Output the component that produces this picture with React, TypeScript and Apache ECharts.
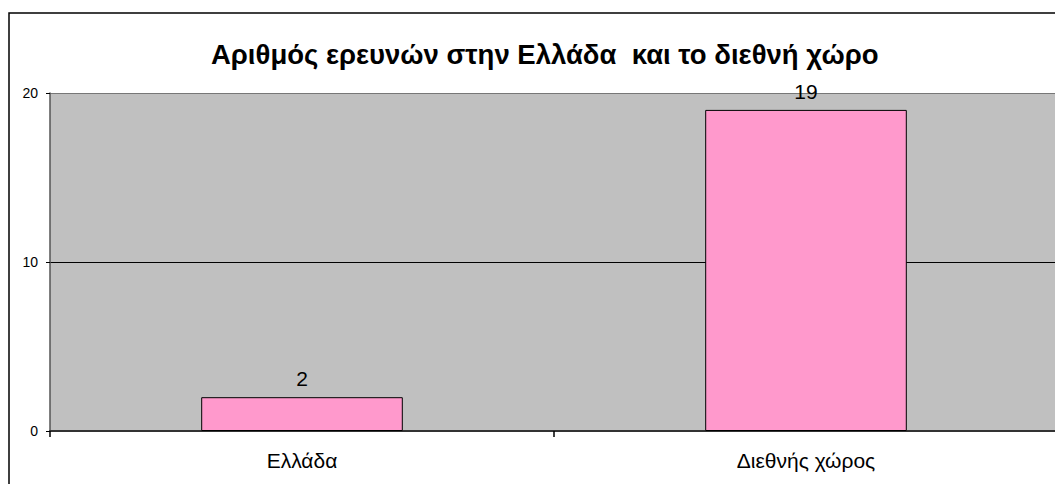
import React, { useEffect, useRef } from "react";
import * as echarts from "echarts";

const titleText = "Αριθμός ερευνών στην Ελλάδα  και το διεθνή χώρο";
const categories = ["Ελλάδα", "Διεθνής χώρος"];
const values = [2, 19];
const yMin = 0;
const yMax = 20;
const yInterval = 10;

const FONT = "'Liberation Sans', Arial, sans-serif";

export default function App() {
  const ref = useRef<HTMLDivElement>(null);
  useEffect(() => {
    if (!ref.current) return;
    const chart = echarts.init(ref.current, undefined, { renderer: "svg" });
    chart.setOption({
      animation: false,
      backgroundColor: "#fff",
      textStyle: { fontFamily: FONT },
      title: {
        text: titleText,
        left: 206,
        top: 35,
        textStyle: { fontFamily: FONT, fontSize: 27.5, fontWeight: "bold", color: "#000" },
      },
      graphic: [
        {
          type: "rect",
          shape: { x: 9, y: 13, width: 1200, height: 600 },
          style: { fill: "none", stroke: "#000", lineWidth: 1.5 },
          z: 100,
        },
      ],
      grid: {
        left: 50,
        top: 93,
        width: 1008,
        height: 338,
        show: true,
        backgroundColor: "#C0C0C0",
        borderWidth: 0,
      },
      xAxis: {
        type: "category",
        data: categories,
        axisLine: { show: true, lineStyle: { color: "#333", width: 2 } },
        axisTick: { show: true, length: 6, alignWithLabel: false, lineStyle: { color: "#000", width: 1.5 } },
        axisLabel: { fontFamily: FONT, fontSize: 21, color: "#000", margin: 19 },
        splitLine: { show: false },
      },
      yAxis: {
        type: "value",
        min: yMin,
        max: yMax,
        interval: yInterval,
        axisLine: { show: true, lineStyle: { color: "#555", width: 1.5 } },
        axisTick: { show: true, length: 4, lineStyle: { color: "#000" } },
        axisLabel: { fontFamily: FONT, fontSize: 14, color: "#000", margin: 12 },
        splitLine: { show: true, lineStyle: { color: ["#333", "#000", "#777"], width: 1.2 } },
      },
      series: [
        {
          type: "bar",
          data: values,
          barWidth: "40%",
          itemStyle: { color: "#FF99CC", borderColor: "#000", borderWidth: 1 },
          label: {
            show: true,
            position: "top",
            distance: 8,
            fontFamily: FONT,
            fontSize: 21,
            color: "#000",
          },
        },
      ],
    });
    return () => chart.dispose();
  }, []);
  return (
    <div
      style={{
        position: "absolute",
        left: 0,
        top: 0,
        width: 1055,
        height: 484,
        overflow: "hidden",
      }}
    >
      <div ref={ref} style={{ width: 1080, height: 484 }} />
    </div>
  );
}
